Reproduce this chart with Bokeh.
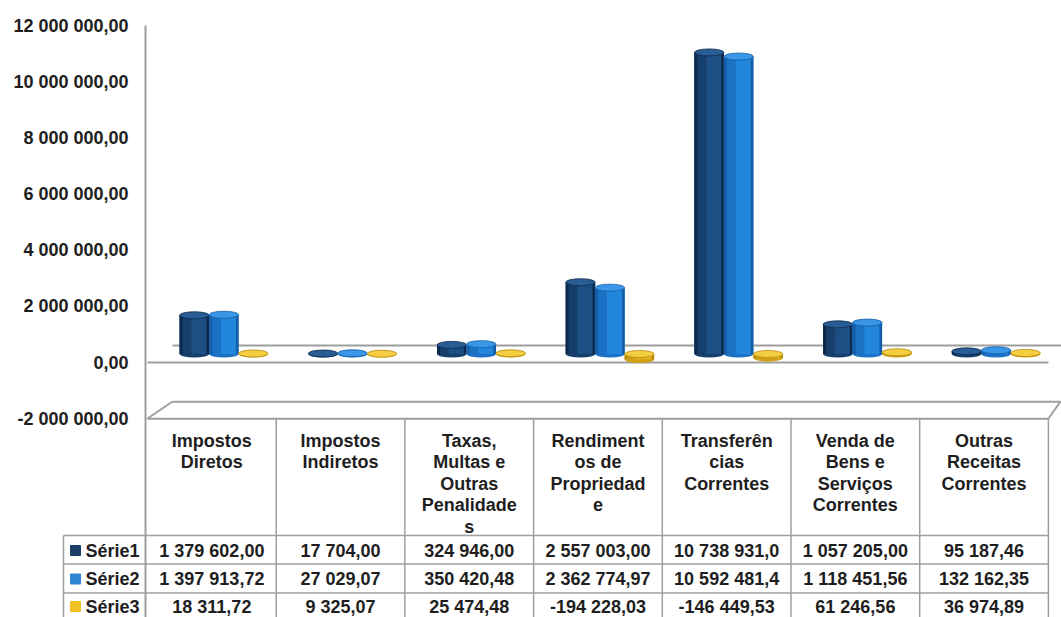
import numpy as np
from bokeh.plotting import figure
from bokeh.models import Range1d, ColumnDataSource
from bokeh.core.properties import value
from bokeh.embed import file_html
from bokeh.resources import INLINE

# ---------------- data ----------------
categories = ["Impostos Diretos", "Impostos Indiretos", "Taxas, Multas e Outras Penalidades",
              "Rendimentos de Propriedade", "Transferências Correntes",
              "Venda de Bens e Serviços Correntes", "Outras Receitas Correntes"]
category_labels = ["Impostos\nDiretos", "Impostos\nIndiretos", "Taxas,\nMultas e\nOutras\nPenalidade\ns",
                   "Rendiment\nos de\nPropriedad\ne", "Transferên\ncias\nCorrentes",
                   "Venda de\nBens e\nServiços\nCorrentes", "Outras\nReceitas\nCorrentes"]
series_names = ["Série1", "Série2", "Série3"]
serie1 = [1379602.00, 17704.00, 324946.00, 2557003.00, 10738931.00, 1057205.00, 95187.46]
serie2 = [1397913.72, 27029.07, 350420.48, 2362774.97, 10592481.47, 1118451.56, 132162.35]
serie3 = [18311.72, 9325.07, 25474.48, -194228.03, -146449.53, 61246.56, 36974.89]
y_ticks = [-2000000, 0, 2000000, 4000000, 6000000, 8000000, 10000000, 12000000]


def fmt(v):
    return f"{v:,.2f}".replace(",", " ").replace(".", ",")


def fmt_cell(v):
    return fmt(v)[:12]


# ---------------- geometry / scales ----------------
W, H = 1061, 617
COL0, COLW = 211.35, 128.7          # x of first category centre, column width (px)
ZERO_Y, PX_PER_UNIT = 362.0, 28.08e-6
X0 = (0 - COL0) / COLW
X1 = (W - COL0) / COLW
Y0 = -(H - ZERO_Y) / PX_PER_UNIT
Y1 = ZERO_Y / PX_PER_UNIT

p = figure(width=W, height=H, x_range=Range1d(X0, X1), y_range=Range1d(Y0, Y1),
           min_border=0, x_axis_location=None, y_axis_location=None,
           toolbar_location=None, output_backend="svg", outline_line_color=None,
           background_fill_color="white", border_fill_color="white")
p.grid.visible = False

DX_MID, DY_MID = 12, 8.5
DX_BACK, DY_BACK = 25, 17
p.extra_x_ranges = {
    "depth": Range1d(X0 - DX_MID / COLW, X1 - DX_MID / COLW),
    "back": Range1d(X0 - DX_BACK / COLW, X1 - DX_BACK / COLW),
    "px": Range1d(0, W),
}
p.extra_y_ranges = {
    "depth": Range1d(Y0 - DY_MID / PX_PER_UNIT, Y1 - DY_MID / PX_PER_UNIT),
    "back": Range1d(Y0 - DY_BACK / PX_PER_UNIT, Y1 - DY_BACK / PX_PER_UNIT),
    "px": Range1d(H, 0),
}

GRID = "#9e9e9e"
TXT = "#1e1e1e"
FONT = value("Liberation Sans")

n = len(categories)
idx = np.arange(n)

# ---------------- 3D frame lines ----------------
# wall left edge
p.segment(x0=[145], y0=[max(y_ticks)], x1=[145], y1=[Y0], x_range_name="px",
          line_color=GRID, line_width=2)
# zero plane: front and back edges
p.segment(x0=[-0.5], y0=[0], x1=[n - 0.5], y1=[0], line_color=GRID, line_width=2)
p.segment(x0=[-0.5], y0=[0], x1=[n - 0.5], y1=[0], x_range_name="back", y_range_name="back",
          line_color=GRID, line_width=2)
# floor at minimum
ymin = min(y_ticks)
p.segment(x0=[-0.5], y0=[ymin], x1=[n - 0.5], y1=[ymin], line_color=GRID, line_width=2)
p.segment(x0=[-0.5], y0=[ymin], x1=[n - 0.5 - 0.1], y1=[ymin], x_range_name="back", y_range_name="back",
          line_color=GRID, line_width=2)
p.segment(x0=[147, 1048], y0=[418, 418], x1=[172, 1060], y1=[401, 401],
          x_range_name="px", y_range_name="px", line_color=GRID, line_width=2)

# ---------------- y tick labels ----------------
p.text(x=[128] * len(y_ticks), y=y_ticks, text=[fmt(v) for v in y_ticks], x_range_name="px",
       text_align="right", text_baseline="middle", text_font=FONT, text_font_style="bold",
       text_font_size="18px", text_color=TXT)

# ---------------- cylinders ----------------
BW = 0.229
CAPH = 7 / PX_PER_UNIT
offsets = [-BW, 0.0, BW]
styles = [
    dict(body="#1d4f84", left="#163f6c", edge="#0d2a4c", cap="#285c94"),
    dict(body="#2186dc", left="#1b71c4", edge="#155ea6", cap="#3a97e8"),
    dict(body="#e5b41f", left="#cfa014", edge="#b88c0e", cap="#f4cd40"),
]
for vals, off, st in zip([serie1, serie2, serie3], offsets, styles):
    v = np.array(vals, dtype=float)
    xc = idx + off
    src = ColumnDataSource(dict(x=xc, lo=np.minimum(v, 0), hi=np.maximum(v, 0),
                                xl=xc - BW * 0.30, xe=xc - BW * 0.45, xr=xc + BW * 0.455))
    kw = dict(source=src, x_range_name="depth", y_range_name="depth", line_color=None)
    p.ellipse(x="x", y="lo", width=BW, height=CAPH, fill_color=st["left"], **kw)
    p.vbar(x="x", width=BW, bottom="lo", top="hi", fill_color=st["body"], **kw)
    p.vbar(x="xl", width=BW * 0.40, bottom="lo", top="hi", fill_color=st["left"], **kw)
    p.vbar(x="xe", width=BW * 0.10, bottom="lo", top="hi", fill_color=st["edge"], **kw)
    p.vbar(x="xr", width=BW * 0.09, bottom="lo", top="hi", fill_color=st["edge"], **kw)
    p.ellipse(x="x", y="hi", width=BW, height=CAPH, fill_color=st["cap"],
              source=src, x_range_name="depth", y_range_name="depth",
              line_color=st["edge"], line_width=0.8)

# ---------------- data table ----------------
HEAD_TOP, ROW_LINES = 418, [535, 563.5, 592.5]
ROW_CENTERS = [550, 578.5, 606]
LEFT = 63
# horizontal lines
p.segment(x0=[LEFT] * 3, y0=ROW_LINES, x1=[1048] * 3, y1=ROW_LINES,
          x_range_name="px", y_range_name="px", line_color=GRID, line_width=1.5)
# column separators
sep = np.arange(n + 1) - 0.5
p.segment(x0=sep[1:], y0=[HEAD_TOP] * n, x1=sep[1:], y1=[H] * n, y_range_name="px",
          line_color=GRID, line_width=1.5)
p.segment(x0=[LEFT], y0=[ROW_LINES[0]], x1=[LEFT], y1=[H],
          x_range_name="px", y_range_name="px", line_color=GRID, line_width=1.5)

# header labels
p.text(x=idx, y=[430] * n, text=category_labels, y_range_name="px",
       text_align="center", text_baseline="top", text_line_height=1.075,
       text_font=FONT, text_font_style="bold", text_font_size="18px", text_color=TXT)

# legend keys + series names
legend_colors = ["#1c3d68", "#2f85cf", "#f0c024"]
p.scatter(x=[75] * 3, y=ROW_CENTERS, marker="square", size=10, color=legend_colors,
          x_range_name="px", y_range_name="px")
p.text(x=[85] * 3, y=ROW_CENTERS, text=series_names, x_range_name="px", y_range_name="px",
       text_align="left", text_baseline="middle", text_font=FONT, text_font_style="bold",
       text_font_size="18px", text_color=TXT)

# values
for vals, yc in zip([serie1, serie2, serie3], ROW_CENTERS):
    p.text(x=idx, y=[yc] * n, text=[fmt_cell(v) for v in vals], y_range_name="px",
           text_align="center", text_baseline="middle", text_font=FONT, text_font_style="bold",
           text_font_size="18px", text_color=TXT)

open("out.html", "w").write(file_html(p, INLINE))
